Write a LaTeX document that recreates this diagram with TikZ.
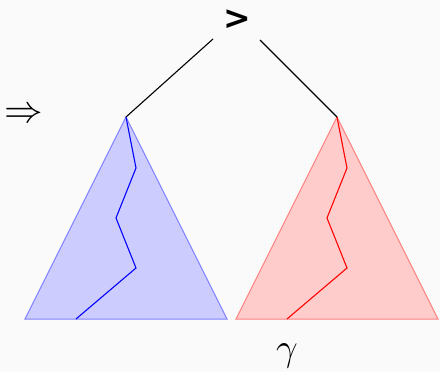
\documentclass[tikz,border=0pt]{standalone}
\usepackage{fontspec}
\newfontfamily\gtfont{DejaVu Sans}
\definecolor{bgc}{RGB}{250,250,250}
\tikzset{
  tri/.style={line width=1pt, line join=miter},
  bluetri/.style={tri, fill=blue!20, draw=blue!50},
  redtri/.style={tri, fill=red!20, draw=red!50},
  bluepath/.style={line width=1.1pt, draw=blue, line join=miter},
  redpath/.style={line width=1.1pt, draw=red, line join=miter},
  edge/.style={line width=1.1pt, draw=black},
  lbl/.style={inner sep=0pt, font=\fontsize{36}{40}\selectfont, scale=1.55}
}
\begin{document}
\begin{tikzpicture}[x=1pt,y=-1pt]
\fill[bgc] (0,0) rectangle (440,372);
\useasboundingbox (0,0) rectangle (440,372);
% triangles
\filldraw[bluetri] (126,117) -- (227,319) -- (25,319) -- cycle;
\filldraw[redtri] (337,117) -- (438,319) -- (236,319) -- cycle;
% inner paths
\coordinate (b0) at (126,117);
\coordinate (b1) at (136,168);
\coordinate (b2) at (116,218);
\coordinate (b3) at (136,268);
\coordinate (b4) at (76,319);
\draw[bluepath] (b0) -- (b1) -- (b2) -- (b3) -- (b4);
\coordinate (r0) at (337,117);
\coordinate (r1) at (347,168);
\coordinate (r2) at (327,218);
\coordinate (r3) at (347,268);
\coordinate (r4) at (287,319);
\draw[redpath] (r0) -- (r1) -- (r2) -- (r3) -- (r4);
% top node and edges
\node[inner sep=0pt, font=\gtfont\bfseries\fontsize{33}{36}\selectfont] (gt) at (237,20) {>};
\coordinate (el) at (213,39);
\coordinate (er) at (260,40);
\draw[edge] (el) -- (b0);
\draw[edge] (er) -- (r0);
% labels
\node[lbl] (imp) at (24,115) {$\Rightarrow$};
\node[lbl] (gam) at (287,356) {$\gamma$};
\end{tikzpicture}
\end{document}
